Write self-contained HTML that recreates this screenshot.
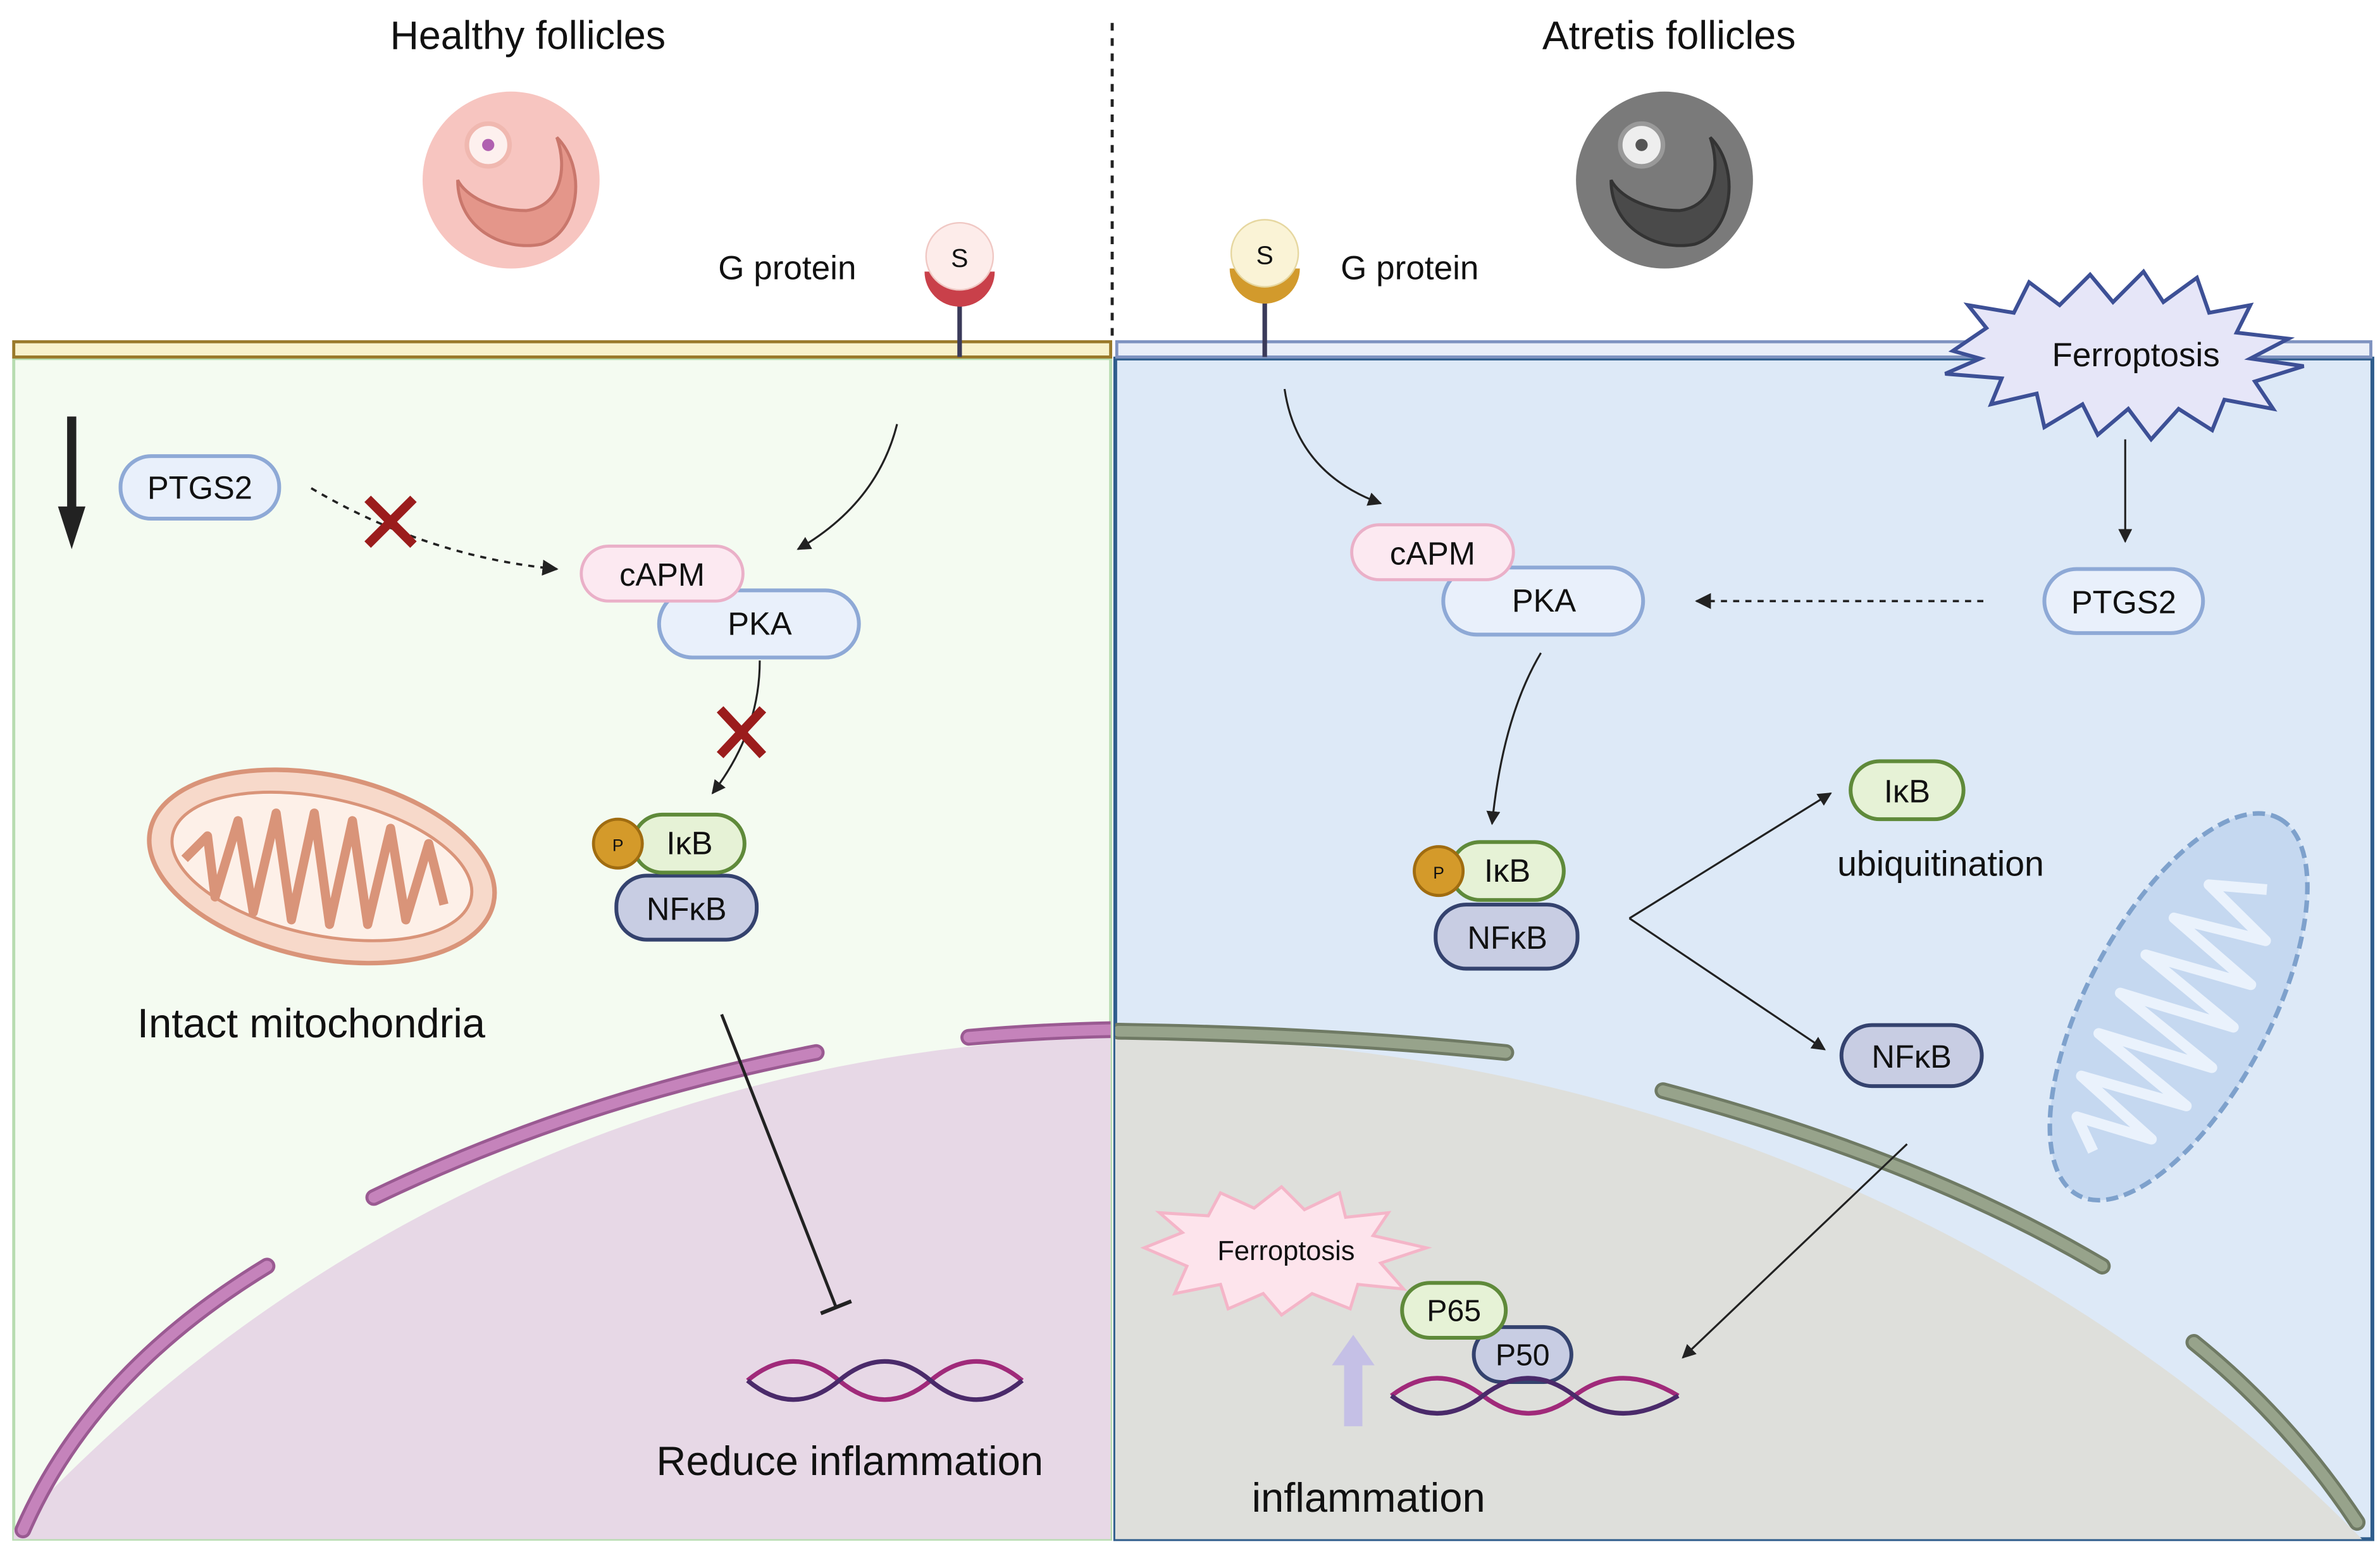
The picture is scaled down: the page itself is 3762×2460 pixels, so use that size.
<!DOCTYPE html>
<html><head><meta charset="utf-8"><style>
html,body{margin:0;padding:0;background:#fff;width:3762px;height:2460px;overflow:hidden}
svg{display:block}
text{font-family:"Liberation Sans",sans-serif;fill:#111}
</style></head><body>
<svg width="3762" height="2460" viewBox="0 0 1560 1020" xmlns="http://www.w3.org/2000/svg">
<defs>
<marker id="ah" viewBox="0 0 10 10" refX="9" refY="5" markerWidth="7" markerHeight="7" orient="auto"><path d="M0,0L10,5L0,10z" fill="#222"/></marker>
<clipPath id="cl"><rect x="9" y="236" width="719" height="773"/></clipPath>
<clipPath id="cr"><rect x="731" y="236" width="824" height="773"/></clipPath>
</defs>
<rect width="1560" height="1020" fill="#fff"/>
<rect x="9" y="235" width="719" height="774" fill="#f4fbf1" stroke="#b7dcb0" stroke-width="2"/>
<rect x="731" y="235" width="824" height="774" fill="#dde9f7" stroke="#2f5d8c" stroke-width="2.5"/>
<g clip-path="url(#cl)">
<circle cx="745" cy="1680" r="1000" fill="#e7d8e6"/>
<g fill="none" stroke="#9a5a92" stroke-width="11" stroke-linecap="round">
<path d="M15,1003 Q60,900 175,830"/><path d="M245,785 Q380,720 535,690"/><path d="M635,680 Q680,676 728,675"/></g>
<g fill="none" stroke="#c583bb" stroke-width="7" stroke-linecap="round">
<path d="M15,1003 Q60,900 175,830"/><path d="M245,785 Q380,720 535,690"/><path d="M635,680 Q680,676 728,675"/></g>
</g>
<g clip-path="url(#cr)">
<ellipse cx="740" cy="1680" rx="1090" ry="1000" fill="#dedfdb"/>
<g fill="none" stroke="#6f7a64" stroke-width="11" stroke-linecap="round">
<path d="M733,676 Q870,678 987,690"/><path d="M1090,715 Q1260,760 1378,830"/><path d="M1438,880 Q1500,930 1545,998"/></g>
<g fill="none" stroke="#97a38b" stroke-width="7" stroke-linecap="round">
<path d="M733,676 Q870,678 987,690"/><path d="M1090,715 Q1260,760 1378,830"/><path d="M1438,880 Q1500,930 1545,998"/></g>
</g>
<rect x="9" y="224" width="719" height="10" fill="#f8f2cc" stroke="#9a7a2a" stroke-width="2"/>
<rect x="732" y="224" width="822" height="10" fill="#e9eef8" stroke="#7f93c0" stroke-width="2"/>
<line x1="729" y1="15" x2="729" y2="224" stroke="#222" stroke-width="2" stroke-dasharray="5,5"/>
<text x="346" y="32" font-size="26" text-anchor="middle">Healthy follicles</text>
<text x="1094" y="32" font-size="26" text-anchor="middle">Atretis follicles</text>
<circle cx="335" cy="118" r="58" fill="#f7c5c0"/>
<path d="M300,118 C300,150 330,165 355,160 C380,152 385,110 365,90 C372,110 368,135 345,138 C322,138 305,128 300,118Z" fill="#e4968a" stroke="#c9776c" stroke-width="2"/>
<circle cx="320" cy="95" r="14" fill="#fdf0ee" stroke="#f0b8b0" stroke-width="3"/><circle cx="320" cy="95" r="4" fill="#b060b0"/>
<circle cx="1091" cy="118" r="58" fill="#7a7a7a"/>
<path d="M1056,118 C1056,150 1086,165 1111,160 C1136,152 1141,110 1121,90 C1128,110 1124,135 1101,138 C1078,138 1061,128 1056,118Z" fill="#4a4a4a" stroke="#333" stroke-width="2"/>
<circle cx="1076" cy="95" r="14" fill="#eee" stroke="#999" stroke-width="3"/><circle cx="1076" cy="95" r="4" fill="#555"/>
<line x1="629" y1="185" x2="629" y2="234" stroke="#3a3a5a" stroke-width="3"/>
<path d="M606,178 A23,23 0 0 0 652,178 Z" fill="#c9404a"/>
<circle cx="629" cy="168" r="22" fill="#fdecea" stroke="#f0c8c4"/>
<text x="629" y="175" font-size="17" text-anchor="middle">S</text>
<text x="516" y="183" font-size="22" text-anchor="middle">G protein</text>
<line x1="829" y1="183" x2="829" y2="234" stroke="#3a3a5a" stroke-width="3"/>
<path d="M806,176 A23,23 0 0 0 852,176 Z" fill="#d29a2c"/>
<circle cx="829" cy="166" r="22" fill="#faf3d6" stroke="#e6d7a0"/>
<text x="829" y="173" font-size="17" text-anchor="middle">S</text>
<text x="924" y="183" font-size="22" text-anchor="middle">G protein</text>
<polygon points="1280,230 1302,215 1290,200 1320,205 1330,185 1350,200 1370,180 1385,198 1405,178 1418,198 1440,182 1448,205 1475,200 1466,218 1500,222 1475,235 1510,240 1478,250 1490,268 1458,262 1450,282 1428,268 1410,288 1395,268 1375,285 1365,265 1340,280 1335,258 1305,265 1312,248 1275,245 1298,235" fill="#e6e6f8" stroke="#3d5096" stroke-width="2.5"/>
<text x="1400" y="240" font-size="22" text-anchor="middle">Ferroptosis</text>
<line x1="47" y1="273" x2="47" y2="335" stroke="#222" stroke-width="6"/>
<path d="M38,332 L56,332 L47,360Z" fill="#222"/>
<rect x="79" y="299" width="104" height="41" rx="20" fill="#e9f0fb" stroke="#8ea9d6" stroke-width="2.5"/>
<text x="131" y="327" font-size="21" text-anchor="middle">PTGS2</text>
<path d="M204,320 Q280,365 365,373" fill="none" stroke="#222" stroke-width="1.5" stroke-dasharray="4,4" marker-end="url(#ah)"/>
<path d="M241,327 L271,357 M271,327 L241,357" stroke="#9b1c1c" stroke-width="6"/>
<path d="M588,278 Q575,330 523,360" fill="none" stroke="#222" stroke-width="1.3" marker-end="url(#ah)"/>
<rect x="432" y="387" width="131" height="44" rx="22" fill="#e9f0fb" stroke="#8ea9d6" stroke-width="2.5"/>
<text x="498" y="416" font-size="21" text-anchor="middle">PKA</text>
<rect x="381" y="358" width="106" height="36" rx="18" fill="#fce9f1" stroke="#eab0c8" stroke-width="2"/>
<text x="434" y="384" font-size="21" text-anchor="middle">cAPM</text>
<path d="M498,433 Q498,480 467,520" fill="none" stroke="#222" stroke-width="1.3" marker-end="url(#ah)"/>
<path d="M472,465 L500,495 M500,465 L472,495" stroke="#9b1c1c" stroke-width="6"/>
<rect x="404" y="574" width="92" height="42" rx="20" fill="#c8cde3" stroke="#34426e" stroke-width="2.5"/>
<text x="450" y="603" font-size="21" text-anchor="middle">NFκB</text>
<rect x="415" y="534" width="73" height="38" rx="19" fill="#e6f2d6" stroke="#5f8a3a" stroke-width="2.5"/>
<text x="452" y="560" font-size="21" text-anchor="middle">IκB</text>
<circle cx="405" cy="553" r="16" fill="#d49a2a" stroke="#a06c10" stroke-width="2"/>
<text x="405" y="558" font-size="11" text-anchor="middle">P</text>
<g transform="translate(211,568)">
<ellipse cx="0" cy="0" rx="115" ry="60" transform="rotate(12)" fill="#f7d9ca" stroke="#d99479" stroke-width="3"/>
<ellipse cx="0" cy="0" rx="100" ry="45" transform="rotate(12)" fill="#fdf0e8" stroke="#d99479" stroke-width="2"/>
<path d="M-90,-5 L-75,-20 L-70,20 L-55,-30 L-45,30 L-30,-35 L-20,35 L-5,-35 L5,38 L20,-30 L30,38 L45,-25 L55,35 L70,-15 L80,25" fill="none" stroke="#d99479" stroke-width="6" stroke-linejoin="round"/>
</g>
<text x="204" y="680" font-size="27" text-anchor="middle">Intact mitochondria</text>
<line x1="473" y1="665" x2="548" y2="857" stroke="#222" stroke-width="2"/>
<line x1="538" y1="861" x2="558" y2="853" stroke="#222" stroke-width="2.5"/>
<g stroke-width="3" fill="none">
<path d="M490,905 Q520,880 550,905 T610,905 T670,905" stroke="#a02a7a"/>
<path d="M490,905 Q520,930 550,905 T610,905 T670,905" stroke="#4a2a6a"/>
</g>
<text x="557" y="967" font-size="27" text-anchor="middle">Reduce inflammation</text>
<path d="M842,255 Q850,310 905,330" fill="none" stroke="#222" stroke-width="1.3" marker-end="url(#ah)"/>
<line x1="1393" y1="288" x2="1393" y2="355" stroke="#222" stroke-width="1.3" marker-end="url(#ah)"/>
<rect x="946" y="372" width="131" height="44" rx="22" fill="#e9f0fb" stroke="#8ea9d6" stroke-width="2.5"/>
<text x="1012" y="401" font-size="21" text-anchor="middle">PKA</text>
<rect x="886" y="344" width="106" height="36" rx="18" fill="#fce9f1" stroke="#eab0c8" stroke-width="2"/>
<text x="939" y="370" font-size="21" text-anchor="middle">cAPM</text>
<rect x="1340" y="373" width="104" height="42" rx="21" fill="#e9f0fb" stroke="#8ea9d6" stroke-width="2.5"/>
<text x="1392" y="402" font-size="21" text-anchor="middle">PTGS2</text>
<line x1="1300" y1="394" x2="1112" y2="394" stroke="#222" stroke-width="1.5" stroke-dasharray="4,4" marker-end="url(#ah)"/>
<path d="M1010,428 Q985,470 978,540" fill="none" stroke="#222" stroke-width="1.3" marker-end="url(#ah)"/>
<rect x="941" y="593" width="93" height="42" rx="20" fill="#c8cde3" stroke="#34426e" stroke-width="2.5"/>
<text x="988" y="622" font-size="21" text-anchor="middle">NFκB</text>
<rect x="951" y="552" width="74" height="38" rx="19" fill="#e6f2d6" stroke="#5f8a3a" stroke-width="2.5"/>
<text x="988" y="578" font-size="21" text-anchor="middle">IκB</text>
<circle cx="943" cy="571" r="16" fill="#d49a2a" stroke="#a06c10" stroke-width="2"/>
<text x="943" y="576" font-size="11" text-anchor="middle">P</text>
<line x1="1068" y1="602" x2="1200" y2="520" stroke="#222" stroke-width="1.3" marker-end="url(#ah)"/>
<line x1="1068" y1="602" x2="1196" y2="688" stroke="#222" stroke-width="1.3" marker-end="url(#ah)"/>
<rect x="1213" y="499" width="74" height="38" rx="19" fill="#e6f2d6" stroke="#5f8a3a" stroke-width="2.5"/>
<text x="1250" y="526" font-size="21" text-anchor="middle">IκB</text>
<text x="1272" y="574" font-size="23" text-anchor="middle">ubiquitination</text>
<rect x="1207" y="672" width="92" height="40" rx="20" fill="#c8cde3" stroke="#34426e" stroke-width="2.5"/>
<text x="1253" y="700" font-size="21" text-anchor="middle">NFκB</text>
<line x1="1250" y1="750" x2="1103" y2="890" stroke="#222" stroke-width="1.3" marker-end="url(#ah)"/>
<g transform="translate(1428,660) rotate(-62)">
<ellipse cx="0" cy="0" rx="140" ry="60" fill="#c5d8f0" stroke="#7ea1cc" stroke-width="3" stroke-dasharray="8,4"/>
<path d="M-110,-5 L-95,-25 L-85,25 L-70,-35 L-55,35 L-40,-38 L-25,38 L-10,-38 L5,38 L20,-35 L35,35 L50,-30 L65,30 L80,-20 L95,15" fill="none" stroke="#eaf2fc" stroke-width="7" stroke-linejoin="round"/>
</g>
<polygon points="750,818 775,808 760,795 792,797 800,782 822,792 840,778 855,793 878,782 882,798 910,795 900,810 935,818 905,828 920,845 890,842 885,858 860,848 840,862 828,848 805,858 800,842 770,848 778,830" fill="#fde4ec" stroke="#f4b5c8" stroke-width="2"/>
<text x="843" y="826" font-size="18" text-anchor="middle">Ferroptosis</text>
<path d="M881,935 L881,895 L873,895 L887,875 L901,895 L893,895 L893,935Z" fill="#c5c0e6"/>
<rect x="966" y="870" width="64" height="36" rx="18" fill="#c8cde3" stroke="#34426e" stroke-width="2.5"/>
<text x="998" y="895" font-size="20" text-anchor="middle">P50</text>
<rect x="919" y="841" width="68" height="36" rx="18" fill="#e6f2d6" stroke="#5f8a3a" stroke-width="2.5"/>
<text x="953" y="866" font-size="20" text-anchor="middle">P65</text>
<g stroke-width="3" fill="none">
<path d="M912,915 Q942,892 972,915 T1032,915 T1100,915" stroke="#a02a7a"/>
<path d="M912,915 Q942,938 972,915 T1032,915 T1100,915" stroke="#4a2a6a"/>
</g>
<text x="897" y="991" font-size="27" text-anchor="middle">inflammation</text>
</svg>
</body></html>
